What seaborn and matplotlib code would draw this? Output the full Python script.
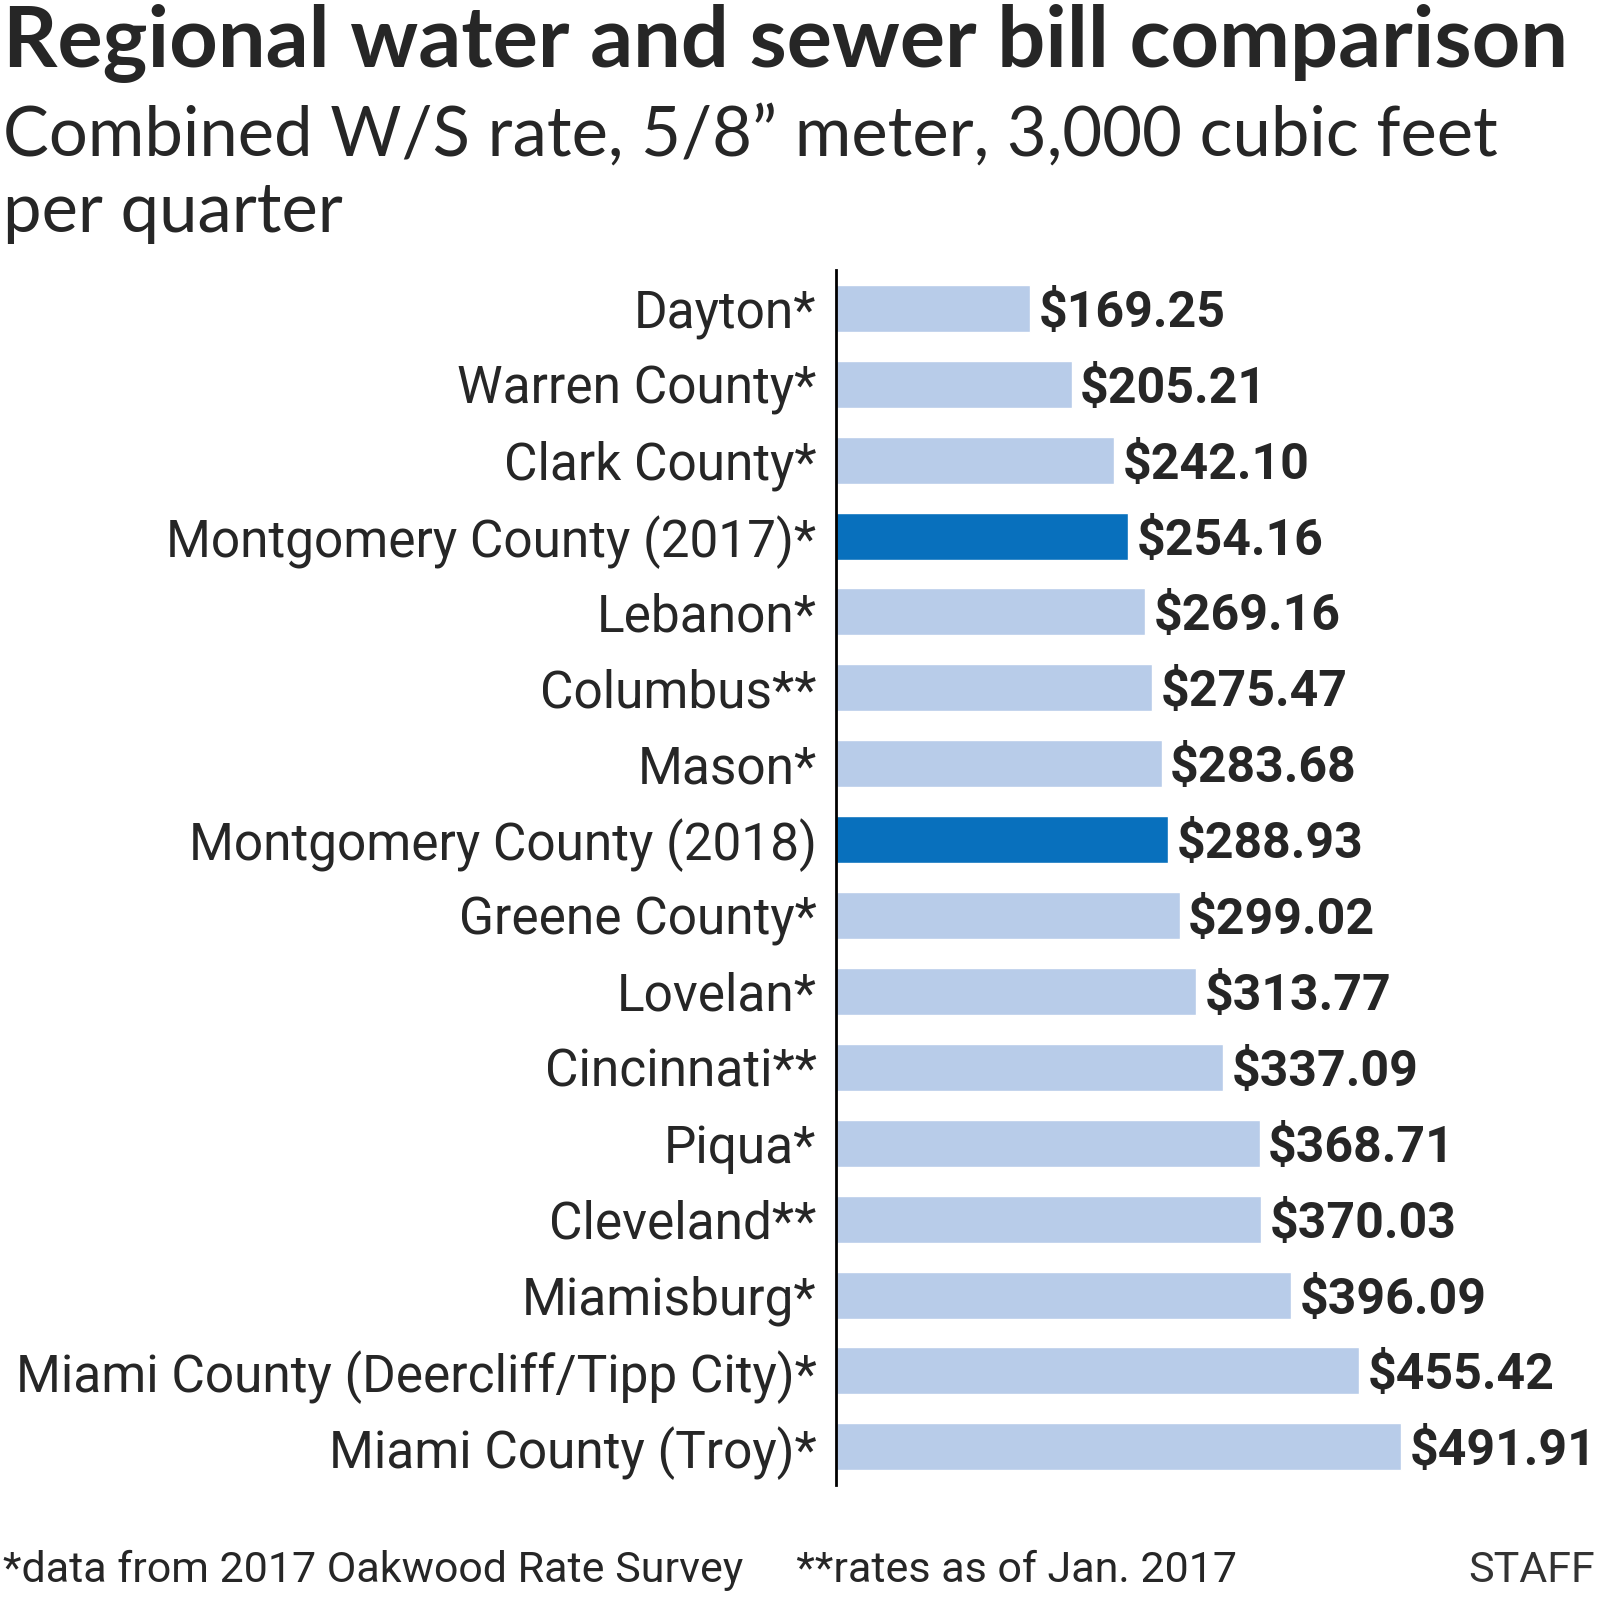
import seaborn as sns
import pandas as pd
from matplotlib import pyplot as plt

places = ['Dayton*', 'Warren County*', 'Clark County*', 'Montgomery County (2017)*',
          'Lebanon*', 'Columbus**', 'Mason*', 'Montgomery County (2018)',
          'Greene County*', 'Lovelan*', 'Cincinnati**', 'Piqua*', 'Cleveland**',
          'Miamisburg*', 'Miami County (Deercliff/Tipp City)*', 'Miami County (Troy)*']
rates = [169.25, 205.21, 242.10, 254.16, 269.16, 275.47, 283.68, 288.93,
         299.02, 313.77, 337.09, 368.71, 370.03, 396.09, 455.42, 491.91]
highlight = ['Montgomery County (2017)*', 'Montgomery County (2018)']

light = '#b8cce9'
dark = '#0870bd'
narrow = 'Roboto'

sns.set_style('white')
plt.rcParams['font.family'] = ['Lato', 'DejaVu Sans']

df = pd.DataFrame({'place': places, 'rate': rates})
palette = {p: (dark if p in highlight else light) for p in places}

fig = plt.figure(figsize=(16, 16), dpi=100)
ax = fig.add_axes([0.5225, 0.072, 0.4775, 0.759])
sns.barplot(data=df, x='rate', y='place', hue='place', palette=palette,
            orient='h', width=0.62, saturation=1, legend=False, ax=ax)

ax.set_xlim(0, 665)
ax.set_ylim(15.5, -0.5)
ax.set_xlabel('')
ax.set_ylabel('')
ax.set_xticks([])
for s in ['top', 'right', 'bottom']:
    ax.spines[s].set_visible(False)
ax.spines['left'].set_color('black')
ax.spines['left'].set_linewidth(2)
ax.tick_params(axis='y', length=0, pad=14)
for lab in ax.get_yticklabels():
    lab.set_fontsize(37)
    lab.set_family(narrow)
    lab.set_verticalalignment('center_baseline')

for c in ax.containers:
    labs = ax.bar_label(c, labels=['$%.2f' % v for v in c.datavalues], padding=6,
                        fontsize=36, fontweight='bold', family=narrow)
    for t in labs:
        t.set_verticalalignment('center_baseline')

fig.text(0.002, 0.959, 'Regional water and sewer bill comparison', fontsize=61,
         fontweight='bold', va='baseline', ha='left')
fig.text(0.002, 0.903, 'Combined W/S rate, 5/8\u201d meter, 3,000 cubic feet',
         fontsize=49.5, va='baseline', ha='left')
fig.text(0.002, 0.855, 'per quarter', fontsize=49.5, va='baseline', ha='left')
fig.text(0.002, 0.011, '*data from 2017 Oakwood Rate Survey     **rates as of Jan. 2017',
         fontsize=31, va='baseline', ha='left', family=narrow)
fig.text(0.997, 0.011, 'STAFF', fontsize=31, va='baseline', ha='right', family=narrow,
         color='#333333')

fig.savefig('out.png', dpi=100)
